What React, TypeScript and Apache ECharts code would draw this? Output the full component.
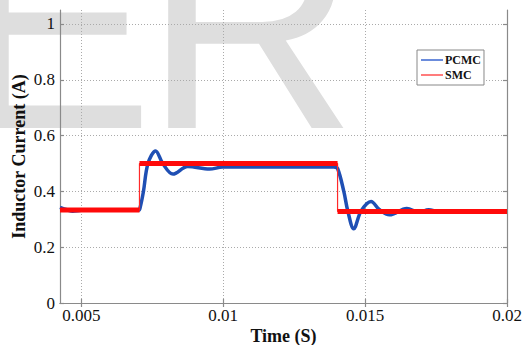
import React, { useEffect, useRef } from 'react';
import * as echarts from 'echarts';

const xTicks = [0.005, 0.01, 0.015, 0.02];
const yTicks = [0, 0.2, 0.4, 0.6, 0.8, 1];

const pcmcTime = [
  0.00425, 0.0045, 0.0047, 0.005, 0.0055, 0.00702, 0.00708, 0.00719, 0.00735, 0.00762,
  0.00787, 0.00823, 0.00875, 0.00952, 0.00998, 0.0139, 0.01403, 0.01425, 0.01439, 0.0146,
  0.01486, 0.01521, 0.0155, 0.01586, 0.01647, 0.01689, 0.01724, 0.0176, 0.02,
];
const pcmcCurrent = [
  0.343, 0.334, 0.329, 0.332, 0.333, 0.333, 0.345, 0.4, 0.5, 0.545,
  0.5, 0.462, 0.489, 0.48, 0.487, 0.487, 0.482, 0.4, 0.33, 0.266,
  0.33, 0.364, 0.335, 0.316, 0.339, 0.325, 0.334, 0.328, 0.328,
];

const smcTime = [0.00425, 0.00705, 0.00705, 0.01403, 0.01403, 0.02];
const smcCurrent = [0.333, 0.333, 0.5, 0.5, 0.328, 0.328];

const serif = '"Liberation Serif", "Times New Roman", serif';

export default function App() {
  const ref = useRef<HTMLDivElement>(null);
  useEffect(() => {
    if (!ref.current) return;
    const chart = echarts.init(ref.current, undefined, { renderer: 'svg' });
    const pcmcData = pcmcTime.map((t, i) => [t, pcmcCurrent[i]]);
    const smcData = smcTime.map((t, i) => [t, smcCurrent[i]]);
    const bands: any[] = [];
    for (let i = 0; i + 1 < smcData.length; i += 2) {
      bands.push({
        name: 'SMC',
        type: 'line',
        data: [smcData[i], smcData[i + 1]],
        symbol: 'none',
        lineStyle: { color: '#ff0a0a', width: 5 },
        z: 4,
        silent: true,
      });
    }
    const axisLineStyle = { color: '#8a8a8a', width: 1.2 };
    chart.setOption({
      animation: false,
      backgroundColor: '#fff',
      graphic: [
        {
          type: 'text', z: -10, x: -43, y: 26,
          style: { text: 'E', fontSize: 295, fontFamily: '"Liberation Sans", Arial, sans-serif', fill: '#dedede', align: 'left', verticalAlign: 'middle' },
        },
        {
          type: 'text', z: -10, x: 144, y: 26,
          style: { text: 'R', fontSize: 295, fontFamily: '"Liberation Sans", Arial, sans-serif', fill: '#dedede', align: 'left', verticalAlign: 'middle' },
        },
      ],
      grid: { left: 60, top: 10, right: 21, bottom: 42, containLabel: false, outerBoundsMode: 'none' },
      legend: {
        data: [
          { name: 'PCMC', icon: 'rect' },
          { name: 'SMC', icon: 'rect' },
        ],
        orient: 'vertical',
        left: 417,
        top: 50,
        itemWidth: 22,
        itemHeight: 1.5,
        itemGap: 3,
        padding: [4, 3, 4, 4],
        backgroundColor: '#fff',
        borderColor: '#888',
        borderWidth: 1,
        textStyle: { fontFamily: serif, fontWeight: 'bold', fontSize: 12, lineHeight: 12, color: '#111', padding: [0, 0, 0, -3] },
      },
      xAxis: [
        {
          type: 'value',
          min: 0.00425,
          max: 0.02,
          name: 'Time (S)',
          nameLocation: 'middle',
          nameGap: 24,
          nameMoveOverlap: false,
          nameTextStyle: { fontFamily: serif, fontWeight: 'bold', fontSize: 18, color: '#111' },
          axisLine: { show: true, lineStyle: axisLineStyle },
          axisTick: { show: true, inside: true, length: 4, customValues: xTicks, lineStyle: axisLineStyle },
          axisLabel: { customValues: xTicks, fontFamily: serif, fontSize: 17, color: '#111', margin: 4 },
          splitLine: { show: true, lineStyle: { color: '#aaa', type: [1, 2], width: 1 } },
        },
        {
          type: 'value',
          position: 'top',
          min: 0.00425,
          max: 0.02,
          axisLine: { show: true, lineStyle: axisLineStyle },
          axisTick: { show: true, inside: true, length: 4, customValues: xTicks, lineStyle: axisLineStyle },
          axisLabel: { show: false },
          splitLine: { show: false },
        },
      ],
      yAxis: [
        {
          type: 'value',
          min: 0,
          max: 1.05,
          interval: 0.2,
          name: 'Inductor Current (A)',
          nameLocation: 'middle',
          nameGap: 32,
          nameMoveOverlap: false,
          nameTextStyle: { fontFamily: serif, fontWeight: 'bold', fontSize: 18, color: '#111' },
          axisLine: { show: true, lineStyle: axisLineStyle },
          axisTick: { show: true, inside: true, length: 4, customValues: yTicks, lineStyle: axisLineStyle },
          axisLabel: { customValues: yTicks, fontFamily: serif, fontSize: 17, color: '#111', margin: 5 },
          splitLine: { show: true, lineStyle: { color: '#aaa', type: [1, 2], width: 1 } },
        },
        {
          type: 'value',
          position: 'right',
          min: 0,
          max: 1.05,
          interval: 0.2,
          axisLine: { show: true, lineStyle: axisLineStyle },
          axisTick: { show: true, inside: true, length: 4, customValues: yTicks, lineStyle: axisLineStyle },
          axisLabel: { show: false },
          splitLine: { show: false },
        },
      ],
      series: [
        {
          name: 'PCMC',
          type: 'line',
          data: pcmcData,
          symbol: 'none',
          smooth: 0.35,
          itemStyle: { color: '#3a66d0' },
          lineStyle: { color: '#1f4fb4', width: 3.5 },
          z: 3,
        },
        {
          name: 'SMC',
          type: 'line',
          data: smcData,
          symbol: 'none',
          itemStyle: { color: '#ff5050' },
          lineStyle: { color: '#ff2a2a', width: 1.2 },
          z: 4,
        },
        ...bands,
      ],
    });
    return () => chart.dispose();
  }, []);
  return <div ref={ref} style={{ position: 'fixed', left: 0, top: 0, width: 528, height: 345 }} />;
}
